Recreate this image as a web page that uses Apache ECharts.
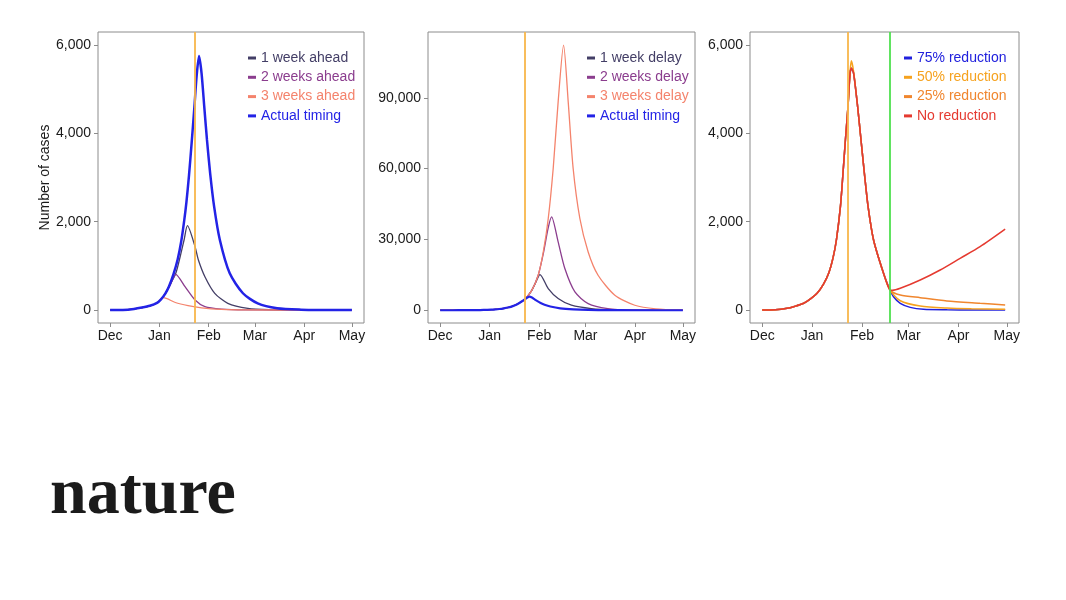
<!DOCTYPE html>
<html>
<head>
<meta charset="utf-8">
<script src="https://cdn.jsdelivr.net/npm/echarts@6/dist/echarts.min.js"></script>
<style>
html, body { margin: 0; padding: 0; background: #fff; }
#chart { width: 1066px; height: 600px; }
</style>
</head>
<body>
<div id="chart"></div>
<script>
// x values are days since 1 Dec 2019
const monthTicks = [0, 31, 62, 91, 122, 152];
const monthNames = ['Dec', 'Jan', 'Feb', 'Mar', 'Apr', 'May'];
const lockdownDay = 53;   // orange line, 23 Jan
const relaxDay = 79;      // green line, panel 3

const smallTicks = [0, 2000, 4000, 6000];
const bigTicks = [0, 30000, 60000, 90000];

// ---- panel 1: intervention earlier ----
const ahead1Days  = [0, 8, 15, 20, 25, 29.5, 32, 34.7, 37, 41.3, 44, 46.5, 48.6, 53.4, 55.5, 59.6, 65.8, 74, 86.6, 100, 120, 152];
const ahead1Cases = [0, 3, 25, 55, 95, 160, 240, 370, 530, 830, 1200, 1585, 1909, 1434, 1132, 754, 378, 152, 38, 8, 1, 0];

const ahead2Days  = [0, 8, 15, 20, 25, 29.5, 32, 35, 38, 41.3, 47.1, 53.4, 59.6, 70, 85, 152];
const ahead2Cases = [0, 3, 25, 55, 95, 160, 240, 390, 580, 808, 528, 226, 75, 20, 3, 0];

const ahead3Days  = [0, 8, 15, 20, 25, 29.5, 33.6, 41, 49, 57.5, 70, 85, 152];
const ahead3Cases = [0, 3, 25, 55, 95, 160, 279, 170, 100, 50, 15, 3, 0];

const actualDays  = [0, 8, 15, 20, 25, 29.5, 32, 34.7, 37, 40, 42.5, 44.7, 46.5, 48, 49.6, 51.3, 53, 54.4, 55.9,
                     57.5, 59.2, 60.9, 62.9, 65.4, 69, 75.2, 83.5, 92.8, 105, 120, 135, 152];
const actualCases = [0, 3, 25, 55, 95, 160, 240, 370, 530, 830, 1150, 1550, 2000, 2450, 3050, 3800, 4600, 5300, 5750,
                     5360, 4600, 3850, 3095, 2340, 1585, 830, 380, 150, 40, 8, 2, 0];

// ---- panel 2: intervention later ----
const delay1Days  = [0, 8, 15, 20, 25, 29.5, 34.7, 40, 44.7, 49.6, 53, 57.3, 60, 62.5, 67.7, 73.9, 82.2, 94.7, 110, 130, 152];
const delay1Cases = [0, 3, 25, 55, 95, 160, 370, 830, 1550, 3050, 4600, 8300, 12000, 15100, 9180, 4950, 2120, 700, 150, 20, 0];

const delay2Days  = [0, 8, 15, 20, 25, 29.5, 34.7, 40, 44.7, 49.6, 53, 57.3, 61.4, 64.6, 67.7, 69.8, 73.9, 78.1, 84.4, 92.7, 105, 120, 152];
const delay2Cases = [0, 3, 25, 55, 95, 160, 370, 830, 1550, 3050, 4600, 8300, 14830, 24000, 35000, 39550, 28940, 17660, 7750, 2820, 700, 100, 0];

const delay3Days  = [0, 8, 15, 20, 25, 29.5, 34.7, 40, 44.7, 49.6, 53, 57.3, 61.4, 64.6, 67.7, 70.8, 73.9, 77.3,
                     80.2, 83.3, 87.5, 92.7, 98.9, 109.4, 121.9, 135, 152];
const delay3Cases = [0, 3, 25, 55, 95, 160, 370, 830, 1550, 3050, 4600, 8300, 14830, 24700, 38860, 60040, 88270, 112300,
                     88270, 60040, 38860, 24700, 14830, 6360, 2120, 600, 100];

// ---- panel 3: contact reduction after relaxing ----
const earlyDays   = [0, 8, 15.5, 20, 25.8, 30, 34.1, 38, 41.3, 44, 46.1, 48.6, 50.2, 51.7, 53.3, 54.6, 55.4,
                     56.8, 59.3, 61.4, 63.5, 65.8, 69.2, 75.4, 79.4];
const earlyCases  = [0, 5, 38, 80, 152, 250, 378, 580, 831, 1180, 1585, 2339, 3095, 3849, 4603, 5359, 5472,
                     5359, 4603, 3849, 3095, 2339, 1585, 831, 453];
const early50Cases = [0, 5, 38, 80, 152, 250, 378, 580, 831, 1180, 1585, 2339, 3095, 3849, 4603, 5400, 5644,
                     5400, 4603, 3849, 3095, 2339, 1585, 831, 453];

const cut75Days  = [81.6, 85.8, 92, 100.2, 115, 130, 151];
const cut75Cases = [301, 151, 60, 15, 4, 1, 0];
const cut50Days  = [85.8, 98.2, 114.8, 130, 151];
const cut50Cases = [210, 91, 45, 28, 18];
const cut25Days  = [85.8, 98.2, 114.8, 135.4, 151];
const cut25Cases = [340, 279, 204, 151, 113];
const noCutDays  = [81, 85.8, 98.2, 110.6, 123, 135.4, 151];
const noCutCases = [445, 491, 679, 906, 1170, 1433, 1830];

const FONT = 'Liberation Sans';

function pairs(xs, ys) {
    return xs.map((x, i) => [x, ys[i]]);
}

const grids = [
    { left: 98, top: 32, width: 266, height: 291 },
    { left: 428, top: 32, width: 267, height: 291 },
    { left: 750, top: 32, width: 269, height: 291 },
];

function xAxisFor(idx) {
    return {
        type: 'value', gridIndex: idx, min: -7.6, max: 159.6,
        axisLine: { show: false, onZero: false },
        splitLine: { show: false },
        axisTick: { show: true, length: 4, lineStyle: { color: '#8c8c8c' }, customValues: monthTicks },
        axisLabel: {
            customValues: monthTicks, margin: 6, color: '#1a1a1a', fontSize: 14, fontFamily: FONT,
            formatter: v => monthNames[monthTicks.indexOf(v)],
        },
    };
}

function yAxisFor(idx, min, max, ticks) {
    return {
        type: 'value', gridIndex: idx, min: min, max: max,
        axisLine: { show: false, onZero: false },
        splitLine: { show: false },
        axisTick: { show: true, length: 4, lineStyle: { color: '#8c8c8c' }, customValues: ticks },
        axisLabel: {
            customValues: ticks, margin: 7, color: '#1a1a1a', fontSize: 14, fontFamily: FONT,
            formatter: v => v.toLocaleString('en-US'),
        },
    };
}

function line(name, idx, data, color, width) {
    return {
        name: name, type: 'line', xAxisIndex: idx, yAxisIndex: idx,
        data: data, symbol: 'none', color: color,
        smooth: 0.25,
        lineStyle: { color: color, width: width },
    };
}

function vline(idx, day, color) {
    return {
        type: 'line', xAxisIndex: idx, yAxisIndex: idx, data: [], symbol: 'none',
        markLine: {
            silent: true, symbol: ['none', 'none'], label: { show: false },
            lineStyle: { color: color, width: 2, type: 'solid', opacity: 0.9 },
            data: [{ xAxis: day }],
        },
    };
}

function legendFor(left, items) {
    return {
        left: left, top: 51, orient: 'vertical', icon: 'rect', padding: 0,
        itemWidth: 8, itemHeight: 3, itemGap: 5.3, selectedMode: false,
        textStyle: { fontSize: 14, fontFamily: FONT },
        data: items.map(it => ({ name: it[0], textStyle: { color: it[1] } })),
    };
}

const C_W1 = '#433e66', C_W2 = '#8b3d8e', C_W3 = '#f4836c', C_ACT = '#2323e6';
const C_75 = '#2020dd', C_50 = '#f6a21e', C_25 = '#f0862e', C_NO = '#e53a30';
const C_ORANGE = '#f7b64a', C_GREEN = '#50e050';

const chart = echarts.init(document.getElementById('chart'), null, { renderer: 'canvas' });

chart.setOption({
    animation: false,
    backgroundColor: '#ffffff',
    grid: grids.map(g => Object.assign({ show: true, borderColor: '#8c8c8c', borderWidth: 1 }, g)),
    xAxis: [xAxisFor(0), xAxisFor(1), xAxisFor(2)],
    yAxis: [
        Object.assign(yAxisFor(0, -294, 6294, smallTicks), {
            name: 'Number of cases', nameLocation: 'middle', nameGap: 46,
            nameTextStyle: { fontSize: 14, color: '#1a1a1a', fontFamily: FONT },
        }),
        yAxisFor(1, -5400, 117850, bigTicks),
        yAxisFor(2, -294, 6294, smallTicks),
    ],
    legend: [
        legendFor(248, [['1 week ahead', C_W1], ['2 weeks ahead', C_W2], ['3 weeks ahead', C_W3], ['Actual timing', C_ACT]]),
        legendFor(587, [['1 week delay', C_W1], ['2 weeks delay', C_W2], ['3 weeks delay', C_W3], ['Actual timing', C_ACT]]),
        legendFor(904, [['75% reduction', C_75], ['50% reduction', C_50], ['25% reduction', C_25], ['No reduction', C_NO]]),
    ],
    graphic: [{
        type: 'text', x: 50, y: 496,
        style: {
            text: 'nature', fontSize: 66, fontWeight: 'bold', fontFamily: 'Liberation Serif',
            fill: '#1b1b1b', verticalAlign: 'middle',
        },
    }],
    series: [
        vline(0, lockdownDay, C_ORANGE),
        line('1 week ahead', 0, pairs(ahead1Days, ahead1Cases), C_W1, 1.3),
        line('2 weeks ahead', 0, pairs(ahead2Days, ahead2Cases), C_W2, 1.3),
        line('3 weeks ahead', 0, pairs(ahead3Days, ahead3Cases), C_W3, 1.3),
        line('Actual timing', 0, pairs(actualDays, actualCases), C_ACT, 2.5),

        vline(1, lockdownDay, C_ORANGE),
        line('1 week delay', 1, pairs(delay1Days, delay1Cases), C_W1, 1.3),
        line('2 weeks delay', 1, pairs(delay2Days, delay2Cases), C_W2, 1.3),
        line('3 weeks delay', 1, pairs(delay3Days, delay3Cases), C_W3, 1.3),
        line('Actual timing', 1, pairs(actualDays, actualCases), C_ACT, 2.2),

        vline(2, lockdownDay, C_ORANGE),
        vline(2, relaxDay, C_GREEN),
        line('75% reduction', 2, pairs(earlyDays.concat(cut75Days), earlyCases.concat(cut75Cases)), C_75, 1.5),
        line('50% reduction', 2, pairs(earlyDays.concat(cut50Days), early50Cases.concat(cut50Cases)), C_50, 1.5),
        line('25% reduction', 2, pairs(earlyDays.concat(cut25Days), earlyCases.concat(cut25Cases)), C_25, 1.5),
        line('No reduction', 2, pairs(earlyDays.concat(noCutDays), earlyCases.concat(noCutCases)), C_NO, 1.5),
    ],
});
</script>
</body>
</html>
